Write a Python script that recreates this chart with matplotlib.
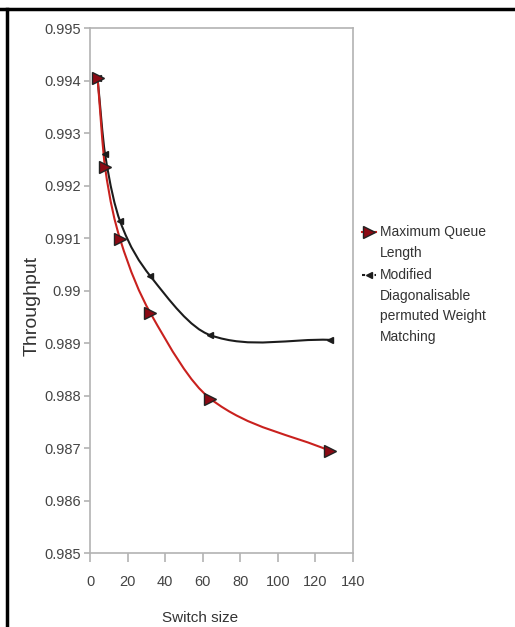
import numpy as np
import matplotlib.pyplot as plt
from matplotlib.path import Path
from matplotlib.patches import PathPatch
from matplotlib.lines import Line2D

plt.rcParams['font.family'] = ['Liberation Sans', 'DejaVu Sans']

switch_size = [4, 8, 16, 32, 64, 128]
mql = [0.99405, 0.99235, 0.99098, 0.98958, 0.98794, 0.98694]
mdpwm = [0.99405, 0.99260, 0.99132, 0.99028, 0.98915, 0.98906]

labels = ["Maximum Queue\nLength", "Modified\nDiagonalisable\npermuted Weight\nMatching"]
xticks = [0, 20, 40, 60, 80, 100, 120, 140]
yticks = [0.985, 0.986, 0.987, 0.988, 0.989, 0.99, 0.991, 0.992, 0.993, 0.994, 0.995]
ytick_labels = ["0.985", "0.986", "0.987", "0.988", "0.989", "0.99", "0.991",
                "0.992", "0.993", "0.994", "0.995"]


def smooth_path(x, y):
    # smooth line through the points (bezier, tangents from neighbours)
    x = np.asarray(x, float)
    y = np.asarray(y, float)
    n = len(x)
    d = np.zeros(n)
    d[0] = (y[1] - y[0]) / (x[1] - x[0])
    d[-1] = (y[-1] - y[-2]) / (x[-1] - x[-2])
    for i in range(1, n - 1):
        d[i] = (y[i + 1] - y[i - 1]) / (x[i + 1] - x[i - 1])
    verts = [(x[0], y[0])]
    codes = [Path.MOVETO]
    for i in range(n - 1):
        h = x[i + 1] - x[i]
        verts += [(x[i] + h / 3, y[i] + d[i] * h / 3),
                  (x[i + 1] - h / 3, y[i + 1] - d[i + 1] * h / 3),
                  (x[i + 1], y[i + 1])]
        codes += [Path.CURVE4] * 3
    return Path(verts, codes)


W, H = 515, 627
fig = plt.figure(figsize=(W / 100, H / 100), dpi=100)
ax = fig.add_axes([0.1748, 0.118, 0.5106, 0.8373])

red = '#c9211e'
dark = '#1c1c1c'
red_fill = '#8b0a14'

ax.add_patch(PathPatch(smooth_path(switch_size, mdpwm), fill=False, edgecolor=dark, lw=1.5, zorder=3))
ax.add_patch(PathPatch(smooth_path(switch_size, mql), fill=False, edgecolor=red, lw=1.5, zorder=3))
ax.plot(switch_size, mdpwm, ls='none', marker='<', ms=4, color=dark, zorder=4)
ax.plot(switch_size, mql, ls='none', marker='>', ms=8, mfc=red_fill, mec='#222222', mew=1, zorder=5)

ax.set_xlim(0, 140)
ax.set_ylim(0.985, 0.995)
ax.set_xticks(xticks)
ax.set_yticks(yticks)
ax.set_yticklabels(ytick_labels)
for s in ax.spines.values():
    s.set_color('#b3b3b3')
    s.set_linewidth(1.2)
ax.tick_params(colors='#b3b3b3', labelcolor='#444444', labelsize=10.5, width=1.2)
ax.tick_params(axis='x', length=6.5, pad=9)
ax.tick_params(axis='y', length=4.5, pad=2)

ax.set_xlabel("Switch size", fontsize=11, color='#333333', va='center')
ax.xaxis.set_label_coords(0.418, -0.124)
ax.set_ylabel("Throughput", fontsize=14, color='#333333', va='center')
ax.yaxis.set_label_coords(-0.22, 0.47)

# legend on the right, drawn by hand to get the loose line spacing
rows = [232, 275]
handle_styles = [
    dict(color=red, lw=1.5, marker='>', ms=8, mfc=red_fill, mec='#222222'),
    dict(color=dark, lw=1.5, ls=(0, (1.5, 1.5)), marker='<', ms=4),
]
for lab, row, st in zip(labels, rows, handle_styles):
    yf = 1 - row / H
    fig.add_artist(Line2D([362 / W, 369 / W, 376 / W], [yf, yf, yf], markevery=[1],
                          transform=fig.transFigure, **st))
    fig.text(380 / W, yf + 7 / H, lab, fontsize=10, color='#333333',
             va='top', ha='left', linespacing=1.6)

# frame lines of the original cut-out
fig.add_artist(Line2D([0, 1], [0.9855, 0.9855], color='black', lw=2.5, transform=fig.transFigure))
fig.add_artist(Line2D([0.0136, 0.0136], [0, 0.9855], color='black', lw=2.5, transform=fig.transFigure))

fig.savefig("out.png", dpi=100)
